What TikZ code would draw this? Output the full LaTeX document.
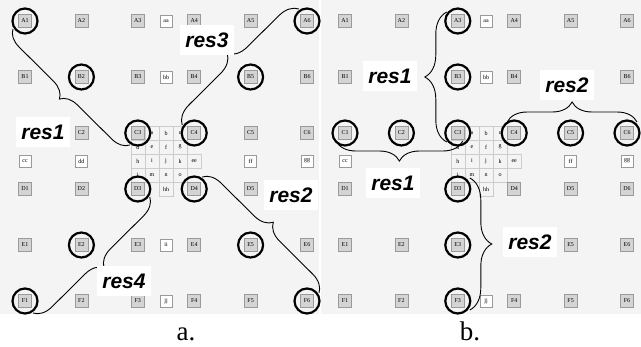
\documentclass[tikz,border=0pt]{standalone}
\usepackage{fontspec}
\setmainfont{Liberation Serif}
\newfontfamily\labfont{Liberation Sans}
\usetikzlibrary{decorations.pathreplacing,calc}
\definecolor{panelbg}{HTML}{F4F4F4}
\definecolor{boxfill}{HTML}{D4D4D4}
\definecolor{boxline}{HTML}{9A9A9A}
\expandafter\def\csname skipaC1\endcsname{x}
\expandafter\def\csname skipaD6\endcsname{x}
\expandafter\def\csname skipbB2\endcsname{x}
\expandafter\def\csname skipbD2\endcsname{x}
\expandafter\def\csname skipbB5\endcsname{x}
\expandafter\def\csname skipbE4\endcsname{x}
\expandafter\def\csname skipbdd\endcsname{x}
\expandafter\def\csname skipbii\endcsname{x}
\begin{document}
\begin{tikzpicture}[x=1pt,y=-1pt,
  gbox/.style={draw=boxline, fill=boxfill, line width=0.5pt, minimum size=13pt, inner sep=0pt, font=\fontsize{6}{6}\selectfont},
  wbox/.style={draw=boxline, fill=white, line width=0.5pt, minimum size=12pt, inner sep=0pt, font=\fontsize{6}{6}\selectfont},
  cell/.style={draw=gray!40, line width=0.4pt, minimum width=14.1pt, minimum height=14pt, inner sep=0pt, font=\fontsize{6}{6}\selectfont},
  ring/.style={draw=black, line width=2.2pt, circle, minimum size=25pt, inner sep=0pt},
  brc/.style={decorate, decoration={brace, amplitude=#1}, draw=black, line width=0.9pt},
  brc/.default=18pt,
  reslab/.style={fill=white, font=\labfont\bfseries\itshape\fontsize{21}{21}\selectfont, inner xsep=5pt, inner ysep=8pt},
  captxt/.style={font=\fontsize{27}{27}\selectfont, anchor=base, inner sep=0pt}]
\useasboundingbox (0,0) rectangle (641,346);
\fill[panelbg] (0,0) rectangle (319,314);
\fill[panelbg] (321,0) rectangle (641,314);
\foreach \p/\ox in {a/0,b/320}{
  \foreach \cl/\ck/\cm in {a/1/0,b/2/0,c/3/0,d/0/1,e/1/1,f/2/1,g/3/1,h/0/2,i/1/2,j/2/2,k/3/2,ee/4/2,l/0/3,m/1/3,n/2/3,o/3/3,hh/2/4}{
    \node[cell] (\p-cell-\cl) at ({\ox+137.8+14.1*\ck},{133+14*\cm}) {\cl};
  }
  \foreach \rw [count=\j from 0] in {A,B,C,D,E,F}{
    \foreach \col in {1,...,6}{
      \ifcsname skip\p\rw\col\endcsname\else
        \node[gbox] (\p\rw\col) at ({\ox+25+56.4*(\col-1)},{21+56*\j}) {\rw\col};
      \fi
    }
  }
  \foreach \tx/\xx/\yy in {aa/166/21,bb/166/77,cc/25/161,dd/81.4/161,ff/250.6/161,gg/307/161,ii/166/245,jj/166/301}{
    \ifcsname skip\p\tx\endcsname\else
      \node[wbox] (\p-\tx) at ({\ox+\xx},\yy) {\tx};
    \fi
  }
}
\foreach \n in {A1,B2,C3,C4,D3,D4,E2,E5,A6,B5,F1,F6} \node[ring] (ring-a\n) at (a\n) {};
\foreach \n in {A3,B3,C1,C2,C3,C4,C5,C6,D3,E3,F3} \node[ring] (ring-b\n) at (b\n) {};
% panel a braces
\draw[brc=17pt] ($(aC3)+(-8,12)$) -- ($(aA1)+(-12,8)$);
\draw[brc=19pt] ($(aC4)+(-12,-8)$) -- ($(aA6)+(-8,-12)$);
\draw[brc=18pt] ($(aD4)+(8,-12)$) -- ($(aF6)+(12,-8)$);
\draw[brc=18pt] ($(aD3)+(12,8)$) -- ($(aF1)+(8,12)$);
% panel b braces
\draw[brc=22pt] ($(bC3)+(-11,9)$) -- ($(bA3)+(-11,-9)$);
\draw[brc=20pt] ($(bC3)+(5,8)$) -- ($(bC1)+(-9,8)$);
\draw[brc=20pt] ($(bC4)+(-7,-11)$) -- ($(bC6)+(10,-11)$);
\draw[brc=22pt] ($(bD3)+(12,-11)$) -- ($(bF3)+(12,9)$);
% labels
\node[reslab] (la1) at (43,132) {res1};
\node[reslab] (la3) at (207,40) {res3};
\node[reslab] (la2) at (291,195) {res2};
\node[reslab] (la4) at (124,281) {res4};
\node[reslab] (lb1) at (390,76) {res1};
\node[reslab] (lb1b) at (393,183) {res1};
\node[reslab] (lb2) at (567,85) {res2};
\node[reslab] (lb2b) at (530,242) {res2};
\node[captxt] (capa) at (186,340) {a.};
\node[captxt] (capb) at (470,340) {b.};
\end{tikzpicture}
\end{document}
